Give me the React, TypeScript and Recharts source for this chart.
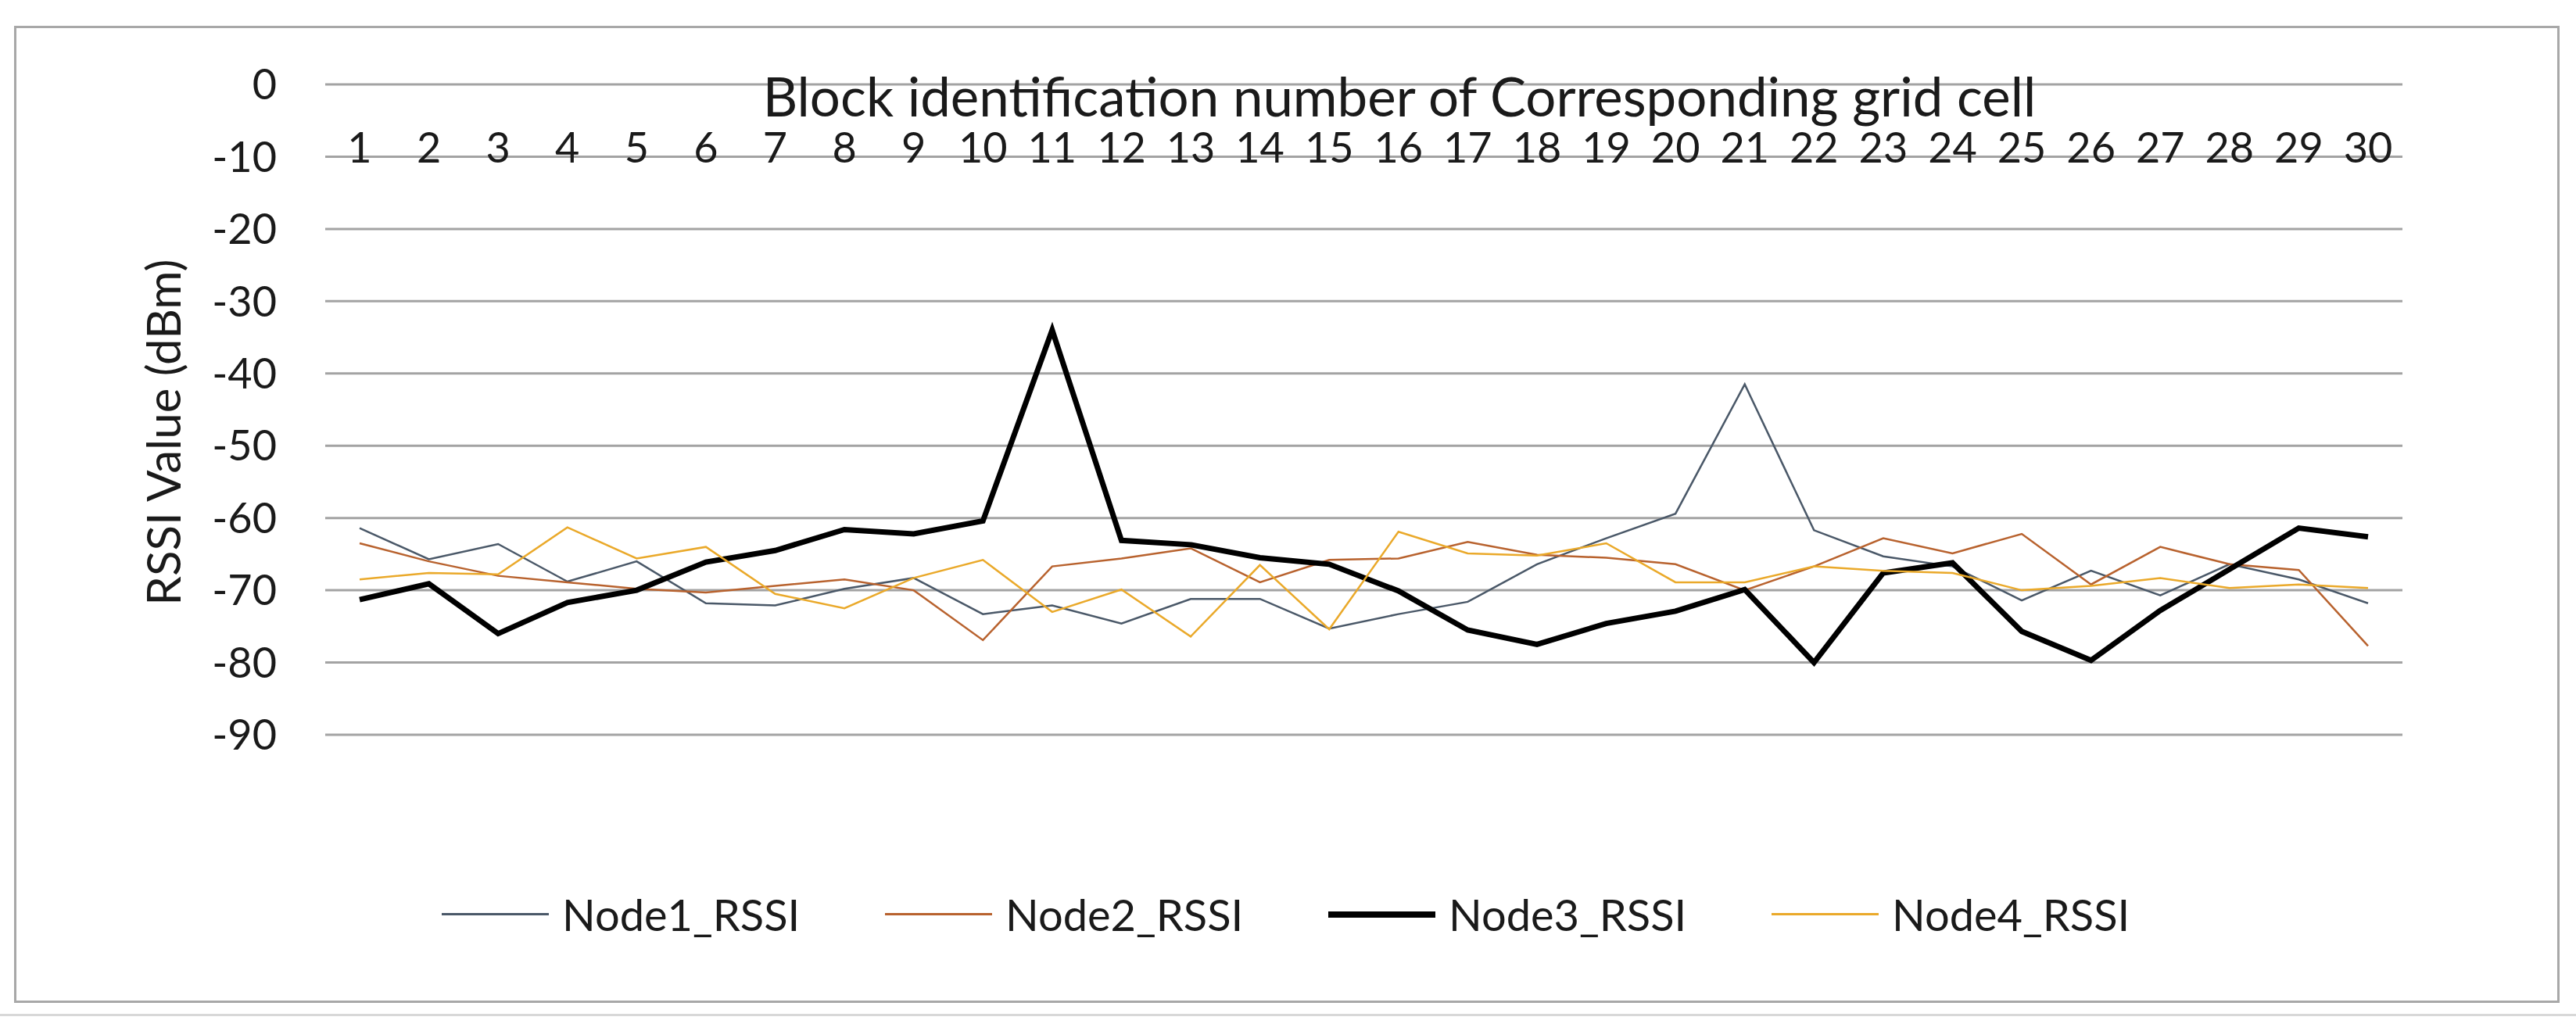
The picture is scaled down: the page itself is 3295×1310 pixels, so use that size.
import React from "react";
import { LineChart, Line, XAxis, YAxis, CartesianGrid, Legend, Customized } from "recharts";

// block ids along the top axis
const BLOCKS = [1, 2, 3, 4, 5, 6, 7, 8, 9, 10, 11, 12, 13, 14, 15, 16, 17, 18, 19, 20, 21, 22, 23, 24, 25, 26, 27, 28, 29, 30];

// RSSI readings (dBm)
const NODE1 = [-61.4, -65.7, -63.6, -68.8, -66.0, -71.8, -72.1, -69.8, -68.3, -73.3, -72.1, -74.6, -71.2, -71.2, -75.3, -73.3, -71.6, -66.4, -62.8, -59.4, -41.5, -61.7, -65.3, -66.7, -71.4, -67.3, -70.7, -66.4, -68.5, -71.8];
const NODE2 = [-63.5, -66.0, -68.0, -68.9, -69.8, -70.3, -69.4, -68.5, -70.0, -76.9, -66.7, -65.6, -64.2, -68.9, -65.8, -65.6, -63.3, -65.1, -65.5, -66.4, -70.0, -66.7, -62.8, -64.9, -62.2, -69.2, -64.0, -66.4, -67.2, -77.7];
const NODE3 = [-71.3, -69.1, -76.0, -71.7, -70.0, -66.1, -64.5, -61.6, -62.2, -60.4, -34.0, -63.1, -63.7, -65.5, -66.4, -70.1, -75.5, -77.5, -74.6, -72.9, -69.9, -80.0, -67.6, -66.2, -75.7, -79.7, -72.8, -67.1, -61.4, -62.6];
const NODE4 = [-68.5, -67.6, -67.8, -61.3, -65.6, -64.0, -70.5, -72.5, -68.3, -65.8, -73.0, -69.9, -76.4, -66.5, -75.4, -61.9, -64.9, -65.2, -63.5, -68.9, -68.9, -66.7, -67.3, -67.6, -70.0, -69.4, -68.3, -69.7, -69.2, -69.7];

const Y_TICKS = [0, -10, -20, -30, -40, -50, -60, -70, -80, -90];

const SERIES = [
  { key: "Node1_RSSI", values: NODE1, color: "#4a5868", width: 2.5 },
  { key: "Node2_RSSI", values: NODE2, color: "#b8622e", width: 2.5 },
  { key: "Node3_RSSI", values: NODE3, color: "#000000", width: 7 },
  { key: "Node4_RSSI", values: NODE4, color: "#eaa92a", width: 2.5 },
];

const data = BLOCKS.map((block, i) => {
  const row: Record<string, number> = { block };
  SERIES.forEach((s) => {
    row[s.key] = s.values[i];
  });
  return row;
});

const FONT = "Lato, 'Open Sans', sans-serif";
const TEXT = "#1a1a1a";

const XTick = ({ x, payload }: any) => (
  <text x={x} y={208} textAnchor="middle" fontSize={54} fontFamily={FONT} fill={TEXT}>
    {payload.value}
  </text>
);

const renderLegend = () => (
  <div style={{ display: "flex", paddingLeft: 565, fontFamily: FONT, fontSize: 56, color: TEXT }}>
    {SERIES.map((s) => (
      <div key={s.key} style={{ width: 567, display: "flex", alignItems: "center" }}>
        <div style={{ width: 137, height: s.width > 3 ? 8 : 3, background: s.color, marginRight: 17 }} />
        <span>{s.key}</span>
      </div>
    ))}
  </div>
);

const Titles = () => (
  <g fontFamily={FONT} fill={TEXT}>
    <text x={1790} y={149} textAnchor="middle" fontSize={69}>
      Block identification number of Corresponding grid cell
    </text>
    <text transform="translate(208,553) rotate(-90)" textAnchor="middle" dominantBaseline="central" fontSize={60}>
      RSSI Value (dBm)
    </text>
  </g>
);

export default function App() {
  return (
    <div style={{ position: "absolute", left: 0, top: 0, width: 3295, height: 1310, background: "#fff" }}>
      <div
        style={{
          position: "absolute",
          left: 18,
          top: 33,
          width: 3250,
          height: 1244,
          border: "3px solid #a8a8a8",
        }}
      />
      <div style={{ position: "absolute", left: 0, top: 1297, width: 3295, height: 3, background: "#d8d8d8" }} />
      <div style={{ position: "absolute", left: 0, top: 0 }}>
        <LineChart width={3295} height={1310} data={data} margin={{ top: 107, left: 316, right: 222, bottom: 370 }}>
          <CartesianGrid horizontal vertical={false} stroke="#a3a3a3" strokeWidth={3} />
          <XAxis
            dataKey="block"
            orientation="top"
            height={1}
            axisLine={false}
            tickLine={false}
            interval={0}
            padding={{ left: 44, right: 44 }}
            tick={<XTick />}
          />
          <YAxis
            type="number"
            domain={[-90, 0]}
            ticks={Y_TICKS}
            width={100}
            axisLine={false}
            tickLine={false}
            tickSize={0}
            tickMargin={62}
            tick={{ fontSize: 54, fill: TEXT, fontFamily: FONT }}
          />
          {SERIES.map((s) => (
            <Line
              key={s.key}
              type="linear"
              dataKey={s.key}
              stroke={s.color}
              strokeWidth={s.width}
              dot={false}
              activeDot={false}
              isAnimationActive={false}
            />
          ))}
          <Legend
            layout="horizontal"
            verticalAlign="middle"
            align="center"
            content={renderLegend}
            wrapperStyle={{ left: 0, top: 1136, width: 3295 }}
          />
          <Customized component={Titles} />
        </LineChart>
      </div>
    </div>
  );
}
